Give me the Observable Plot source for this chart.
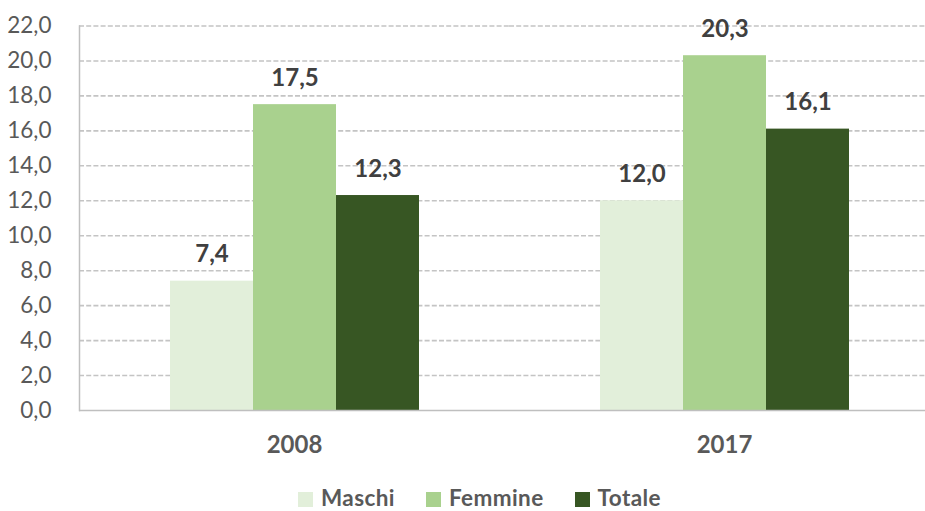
<!DOCTYPE html>
<html>
<head>
<meta charset="utf-8">
<script src="https://cdn.jsdelivr.net/npm/d3@7"></script>
<script src="https://cdn.jsdelivr.net/npm/@observablehq/plot@0.6"></script>
<style>
  html, body { margin: 0; padding: 0; background: #fff; overflow: hidden; width: 925px; height: 511px; }
  #chart { position: absolute; left: 0; top: 0; width: 940px; }
  #chart svg { max-width: none !important; }
  #legend { position: absolute; left: 298px; top: 488px; display: flex; align-items: center; font-family: Lato, sans-serif; font-weight: bold; font-size: 22.5px; letter-spacing: 0.4px; line-height: 20px; color: #595959; }
  .item { display: flex; align-items: center; margin-right: 31px; }
  .sw { width: 15px; height: 15px; margin-right: 8px; position: relative; top: 1px; }
</style>
</head>
<body>
<div id="chart"></div>
<div id="legend"></div>
<script>
const years = ["2008", "2017"];
const series = ["Maschi", "Femmine", "Totale"];
const maschi = [7.4, 12.0];
const femmine = [17.5, 20.3];
const totale = [12.3, 16.1];
const colors = ["#E2EFDA", "#A9D18E", "#375623"];
const yTicks = [0, 2, 4, 6, 8, 10, 12, 14, 16, 18, 20, 22];

const values = [maschi, femmine, totale];
const data = [];
years.forEach((yr, i) => series.forEach((s, j) => data.push({year: yr, series: s, value: values[j][i]})));

const fmt = d => d.toFixed(1).replace(".", ",");

const chart = Plot.plot({
  width: 940,
  height: 470,
  marginLeft: 79,
  marginRight: 1,
  marginTop: 25.5,
  marginBottom: 60,
  style: {fontFamily: "Lato, sans-serif", background: "#fff", maxWidth: "none"},
  fx: {domain: years, padding: 0, label: null},
  x: {domain: series, paddingInner: 0, paddingOuter: 1.09, axis: null},
  y: {domain: [0, 22], axis: null},
  color: {domain: series, range: colors},
  marks: [
    Plot.ruleY(yTicks.filter(d => d > 0), {stroke: "#c4c4c4", strokeWidth: 1.6, strokeDasharray: "5,2.2"}),
    Plot.barY(data, {fx: "year", x: "series", y: "value", fill: "series", insetLeft: 0, insetRight: 0}),
    Plot.ruleY([0], {stroke: "#bfbfbf", strokeWidth: 1.5}),
    Plot.frame({anchor: "left", facetAnchor: "left", stroke: "#bfbfbf", strokeWidth: 1.5}),
    Plot.axisY({ticks: yTicks, tickFormat: fmt, tickSize: 0, tickPadding: 28, fontSize: 22.5, fill: "#595959", label: null}),
    Plot.axisFx({anchor: "bottom", tickSize: 0, tickPadding: 25, fontSize: 24, fontWeight: "bold", fill: "#595959", label: null}),
    Plot.text(data, {fx: "year", x: "series", y: "value", text: d => fmt(d.value), dy: -19, lineAnchor: "bottom", fontSize: 24, fontWeight: "bold", fill: "#404040"})
  ]
});
document.getElementById("chart").appendChild(chart);

const legend = document.getElementById("legend");
series.forEach((s, i) => {
  const it = document.createElement("div");
  it.className = "item";
  const sw = document.createElement("div");
  sw.className = "sw";
  sw.style.background = colors[i];
  const t = document.createElement("span");
  t.textContent = s;
  it.appendChild(sw); it.appendChild(t);
  legend.appendChild(it);
});
</script>
</body>
</html>
